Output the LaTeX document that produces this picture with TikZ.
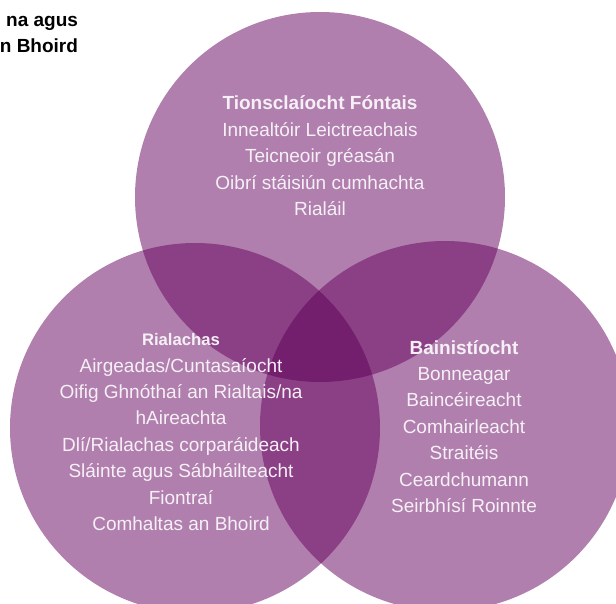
\documentclass[tikz,border=0pt]{standalone}
\usepackage{fontspec}
\setmainfont{Liberation Sans}
\definecolor{vone}{RGB}{176,127,174}
\definecolor{vtwo}{RGB}{139,64,134}
\definecolor{vthree}{RGB}{115,31,110}
\definecolor{vtext}{RGB}{246,240,246}
\begin{document}
\begin{tikzpicture}[x=1pt,y=-1pt,
  body/.style={inner sep=0pt,outer sep=0pt,align=center,text=vtext,
    font=\fontsize{19}{26.4}\selectfont},
  cornertext/.style={inner sep=0pt,outer sep=0pt,text=black,
    font=\fontsize{19}{26.4}\selectfont\bfseries}]
\useasboundingbox (0,0) rectangle (616,604);
\coordinate (T) at (320,197);
\coordinate (L) at (195,428);
\coordinate (R) at (445,426);
\def\rT{185pt}\def\rL{185pt}\def\rR{185pt}
% single areas
\fill[vone] (T) circle[radius=\rT];
\fill[vone] (L) circle[radius=\rL];
\fill[vone] (R) circle[radius=\rR];
% pairwise overlaps
\begin{scope}
  \clip (T) circle[radius=\rT];
  \fill[vtwo] (L) circle[radius=\rL];
  \fill[vtwo] (R) circle[radius=\rR];
\end{scope}
\begin{scope}
  \clip (L) circle[radius=\rL];
  \fill[vtwo] (R) circle[radius=\rR];
\end{scope}
% triple overlap
\begin{scope}
  \clip (T) circle[radius=\rT];
  \clip (L) circle[radius=\rL];
  \fill[vthree] (R) circle[radius=\rR];
\end{scope}
% texts (anchor base = baseline of the last line)
\node[body,anchor=base] (toptext) at (320,215.5)
  {\textbf{Tionsclaíocht Fóntais}\\Innealtóir Leictreachais\\Teicneoir gréasán\\Oibrí stáisiún cumhachta\\Rialáil};
\node[body,anchor=base] (lefttext) at (181,530.5)
  {{\fontsize{16.7}{26.4}\selectfont\bfseries Rialachas}\\Airgeadas/Cuntasaíocht\\Oifig Ghnóthaí an Rialtais/na\\hAireachta\\Dlí/Rialachas corparáideach\\Sláinte agus Sábháilteacht\\Fiontraí\\Comhaltas an Bhoird};
\node[body,anchor=base] (righttext) at (464,512.5)
  {\textbf{Bainistíocht}\\Bonneagar\\Baincéireacht\\Comhairleacht\\Straitéis\\Ceardchumann\\Seirbhísí Roinnte};
\node[cornertext,anchor=base east] (corner1) at (78,27) {na agus};
\node[cornertext,anchor=base east] (corner2) at (78,53) {n Bhoird};
\end{tikzpicture}
\end{document}
